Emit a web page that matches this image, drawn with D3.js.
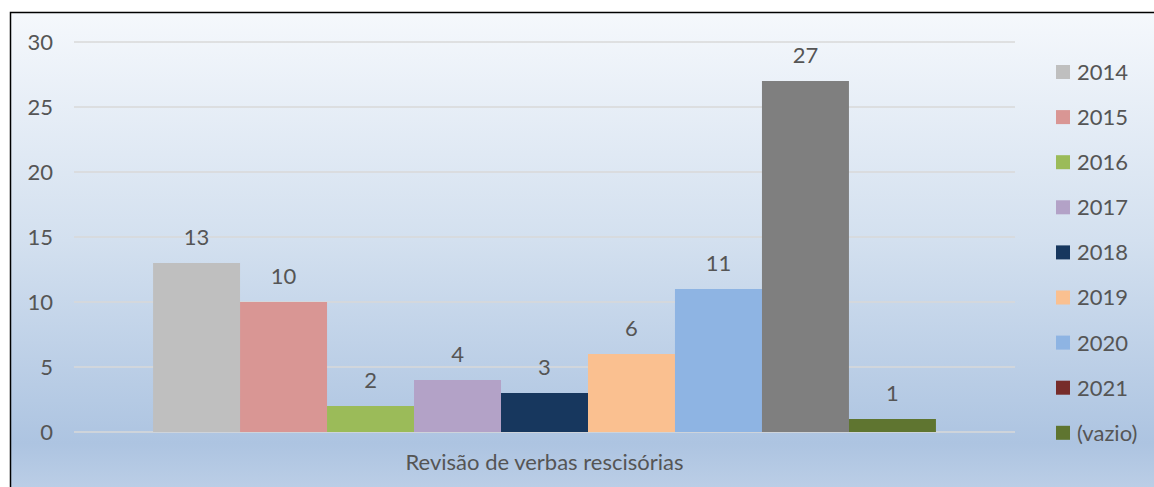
<!DOCTYPE html>
<html>
<head>
<meta charset="utf-8">
<script src="https://cdn.jsdelivr.net/npm/d3@7"></script>
<style>
  body { margin: 0; background: #fff; }
  text { font-family: Lato, "Open Sans", sans-serif; fill: #555; }
</style>
</head>
<body>
<div id="chart"></div>
<script>
// data
let years = ["2014", "2015", "2016", "2017", "2018", "2019", "2020", "2021", "(vazio)"];
let counts = [13, 10, 2, 4, 3, 6, 11, 27, 1];
let category = "Revisão de verbas rescisórias";
let yTicks = [0, 5, 10, 15, 20, 25, 30];

// legend swatches and bar fills (the 2021 bar is drawn grey in the original)
let legendColors = ["#bfbfbf", "#d99694", "#9bbb59", "#b3a2c7", "#17375e", "#fac090", "#8eb4e3", "#772c2a", "#5f7530"];
let barColors = ["#bfbfbf", "#d99694", "#9bbb59", "#b3a2c7", "#17375e", "#fac090", "#8eb4e3", "#7f7f7f", "#5f7530"];

let W = 1154, H = 487;
let margin = {top: 42, left: 74, right: 1015, bottom: 432};

let svg = d3.select("#chart")
    .append("svg")
    .attr("width", W)
    .attr("height", H);

let defs = svg.append("defs");
let grad = defs.append("linearGradient")
    .attr("id", "bg")
    .attr("x1", 0).attr("y1", 0).attr("x2", 0).attr("y2", 1);
grad.append("stop").attr("offset", "0%").attr("stop-color", "#f5f8fc");
grad.append("stop").attr("offset", "45%").attr("stop-color", "#d3e0ef");
grad.append("stop").attr("offset", "85%").attr("stop-color", "#adc4e1");
grad.append("stop").attr("offset", "100%").attr("stop-color", "#c5d5ea");

// chart area with border
svg.append("rect")
    .attr("x", 10.5)
    .attr("y", 12.5)
    .attr("width", W + 20)
    .attr("height", H + 20)
    .attr("fill", "url(#bg)")
    .attr("stroke", "#000")
    .attr("stroke-width", 1.5);

let y = d3.scaleLinear()
    .domain([0, 30])
    .range([margin.bottom, margin.top]);

let x = d3.scaleBand()
    .domain([category])
    .range([margin.left, margin.right])
    .paddingInner(0)
    .paddingOuter(0.101);

let xs = d3.scaleBand()
    .domain(years)
    .range([0, x.bandwidth()]);

// gridlines
svg.append("g")
    .selectAll("line")
    .data(yTicks)
    .enter()
    .append("line")
    .attr("x1", margin.left)
    .attr("x2", margin.right)
    .attr("y1", function(d) { return y(d); })
    .attr("y2", function(d) { return y(d); })
    .attr("stroke", "#d9d9d9")
    .attr("stroke-width", 1.3);

// y axis labels
let yAxis = svg.append("g")
    .attr("transform", "translate(" + (margin.left - 21) + ",0)")
    .call(d3.axisLeft(y).tickValues(yTicks).tickSize(0).tickPadding(0));
yAxis.select(".domain").remove();
yAxis.selectAll("text")
    .style("font-family", "Lato, 'Open Sans', sans-serif")
    .style("font-size", "22px")
    .attr("fill", "#555")
    .attr("dy", "0.36em");

// bars
let group = svg.append("g")
    .attr("transform", "translate(" + x(category) + ",0)");

group.selectAll("rect")
    .data(counts)
    .enter()
    .append("rect")
    .attr("x", function(d, i) { return xs(years[i]); })
    .attr("width", xs.bandwidth())
    .attr("y", function(d) { return y(d); })
    .attr("height", function(d) { return y(0) - y(d); })
    .attr("fill", function(d, i) { return barColors[i]; });

group.selectAll("text.val")
    .data(counts)
    .enter()
    .append("text")
    .attr("class", "val")
    .attr("x", function(d, i) { return xs(years[i]) + xs.bandwidth() / 2; })
    .attr("y", function(d) { return y(d) - 18; })
    .attr("text-anchor", "middle")
    .style("font-size", "22px")
    .text(function(d) { return d; });

// category label
svg.append("text")
    .attr("x", x(category) + x.bandwidth() / 2)
    .attr("y", 470)
    .attr("text-anchor", "middle")
    .style("font-size", "22px")
    .text(category);

// legend
let legend = svg.append("g")
    .attr("transform", "translate(1056,72)");

let rows = legend.selectAll("g")
    .data(years)
    .enter()
    .append("g")
    .attr("transform", function(d, i) { return "translate(0," + (i * 45.1) + ")"; });

rows.append("rect")
    .attr("x", 0)
    .attr("y", -7)
    .attr("width", 14)
    .attr("height", 14)
    .attr("fill", function(d, i) { return legendColors[i]; });

rows.append("text")
    .attr("x", 21)
    .attr("y", 0)
    .attr("dy", "0.36em")
    .style("font-size", "22px")
    .text(function(d) { return d; });
</script>
</body>
</html>
